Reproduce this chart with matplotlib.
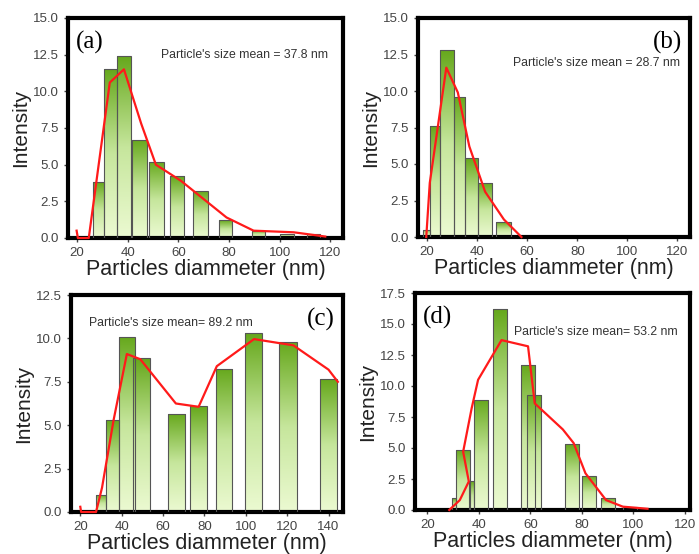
import matplotlib.pyplot as plt
import numpy as np
from matplotlib.colors import LinearSegmentedColormap

plt.rcParams['font.family'] = ['Liberation Sans', 'DejaVu Sans']

# ---- data ----
# panel (a)
a_left = [26.1, 30.7, 35.8, 41.5, 48.5, 56.7, 65.9, 75.9, 89.0, 100.0, 110.8]
a_right = [30.7, 35.8, 41.1, 47.5, 54.3, 62.3, 71.5, 81.2, 94.3, 105.5, 116.0]
a_height = [3.8, 11.5, 12.4, 6.7, 5.2, 4.2, 3.2, 1.2, 0.5, 0.3, 0.3]
a_line_x = [19.8, 20.3, 24.6, 32.9, 38.5, 45.3, 51.1, 61.0, 79.0, 89.7, 105.5, 118.0]
a_line_y = [0.5, 0.0, 0.0, 10.6, 11.5, 7.8, 5.0, 3.9, 1.4, 0.5, 0.39, 0.1]

# panel (b)
b_left = [18.2, 21.1, 25.0, 30.6, 35.2, 40.2, 47.7]
b_right = [21.1, 25.0, 30.6, 35.2, 40.2, 46.1, 53.4]
b_height = [0.5, 7.6, 12.8, 9.6, 5.4, 3.7, 1.0]
b_line_x = [19.7, 21.1, 27.7, 32.3, 36.9, 43.2, 50.7, 57.7]
b_line_y = [0.0, 3.7, 11.6, 9.9, 6.2, 3.1, 1.2, 0.0]

# panel (c)
c_left = [27.6, 32.6, 38.7, 45.6, 62.4, 73.1, 85.5, 99.7, 116.3, 135.9]
c_right = [32.6, 38.7, 46.2, 53.7, 70.7, 81.2, 93.4, 107.9, 124.6, 144.0]
c_height = [1.0, 5.3, 10.1, 8.85, 5.65, 6.1, 8.25, 10.3, 9.8, 7.65]
c_line_x = [20.0, 20.4, 27.6, 30.5, 36.1, 42.5, 49.0, 66.2, 77.2, 86.0, 104.0, 123.0, 140.0, 144.5]
c_line_y = [0.3, 0.0, 0.0, 1.4, 5.3, 9.1, 8.8, 6.25, 6.06, 8.4, 9.96, 9.6, 8.2, 7.5]

# panel (d)
d_left = [29.4, 31.1, 36.0, 38.1, 45.3, 56.2, 58.7, 73.3, 80.1, 87.5, 95.9]
d_right = [31.1, 36.5, 38.2, 43.6, 51.0, 61.7, 64.3, 78.8, 85.5, 93.0, 101.3]
d_height = [0.95, 4.85, 2.3, 8.9, 16.2, 11.7, 9.3, 5.3, 2.75, 0.95, 0.25]
d_line_x = [28.5, 32.6, 36.1, 33.9, 37.2, 39.7, 48.8, 59.1, 61.7, 72.6, 76.8, 81.4, 89.4, 95.9, 105.5]
d_line_y = [0.0, 0.8, 2.3, 4.7, 8.2, 10.5, 13.7, 13.2, 8.6, 6.5, 5.4, 2.96, 0.8, 0.27, 0.1]

panels = [
    dict(left=a_left, right=a_right, h=a_height, lx=a_line_x, ly=a_line_y,
         xlim=(16.4, 125), ylim=(0, 15), yticks=np.arange(0, 15.1, 2.5),
         xticks=range(20, 121, 20), tag='(a)', tagpos=(0.03, 0.94), tagha='left',
         note="Particle's size mean = 37.8 nm", notepos=(0.945, 0.83),
         rect=(68, 18, 343, 238)),
    dict(left=b_left, right=b_right, h=b_height, lx=b_line_x, ly=b_line_y,
         xlim=(16.4, 125), ylim=(0, 15), yticks=np.arange(0, 15.1, 2.5),
         xticks=range(20, 121, 20), tag='(b)', tagpos=(0.97, 0.94), tagha='right',
         note="Particle's size mean = 28.7 nm", notepos=(0.963, 0.795),
         rect=(418, 18, 690, 237)),
    dict(left=c_left, right=c_right, h=c_height, lx=c_line_x, ly=c_line_y,
         xlim=(15.5, 147), ylim=(0, 12.5), yticks=np.arange(0, 12.6, 2.5),
         xticks=range(20, 141, 20), tag='(c)', tagpos=(0.97, 0.94), tagha='right',
         note="Particle's size mean= 89.2 nm", notepos=(0.67, 0.87),
         rect=(71, 295, 343, 512)),
    dict(left=d_left, right=d_right, h=d_height, lx=d_line_x, ly=d_line_y,
         xlim=(15.2, 122), ylim=(0, 17.5), yticks=np.arange(0, 17.6, 2.5),
         xticks=range(20, 121, 20), tag='(d)', tagpos=(0.03, 0.94), tagha='left',
         note="Particle's size mean= 53.2 nm", notepos=(0.956, 0.82),
         rect=(415, 293, 690, 510)),
]

W, H = 699, 554
green = LinearSegmentedColormap.from_list('g', ['#ecfad2', '#c6e69c', '#66a81c'])
grad = np.linspace(0, 1, 256).reshape(-1, 1)

fig = plt.figure(figsize=(W / 100, H / 100), dpi=100)

for p in panels:
    x0, y0, x1, y1 = p['rect']
    ax = fig.add_axes([x0 / W, 1 - y1 / H, (x1 - x0) / W, (y1 - y0) / H])
    bars = ax.bar(p['left'], p['h'], width=np.array(p['right']) - np.array(p['left']),
                  align='edge', facecolor='none', edgecolor='#555555', linewidth=0.8, zorder=3)
    for b in bars:
        bx, bw, bh = b.get_x(), b.get_width(), b.get_height()
        im = ax.imshow(grad, cmap=green, origin='lower', aspect='auto',
                       extent=(bx, bx + bw, 0, bh), zorder=2)
        im.set_clip_path(b)
    ax.plot(p['lx'], p['ly'], color='#ff1a1a', lw=1.6, zorder=4, clip_on=False)
    ax.set_xlim(*p['xlim'])
    ax.set_ylim(*p['ylim'])
    ax.set_xticks(list(p['xticks']))
    ax.set_yticks(p['yticks'])
    ax.set_yticklabels([f'{v:.1f}' for v in p['yticks']])
    ax.tick_params(labelsize=9.5, colors='#444444', length=3, width=1, direction='out')
    for s in ax.spines.values():
        s.set_linewidth(3)
        s.set_color('black')
    ax.set_xlabel('Particles diammeter (nm)', fontsize=15.5, labelpad=0, color='#222222')
    ax.set_ylabel('Intensity', fontsize=15, labelpad=2, color='#222222')
    ax.text(*p['tagpos'], p['tag'], transform=ax.transAxes, ha=p['tagha'], va='top',
            fontsize=18, family='Liberation Serif')
    ax.text(*p['notepos'], p['note'], transform=ax.transAxes, ha='right', va='center',
            fontsize=8.8, color='#333333')

fig.savefig('out.png', dpi=100)
